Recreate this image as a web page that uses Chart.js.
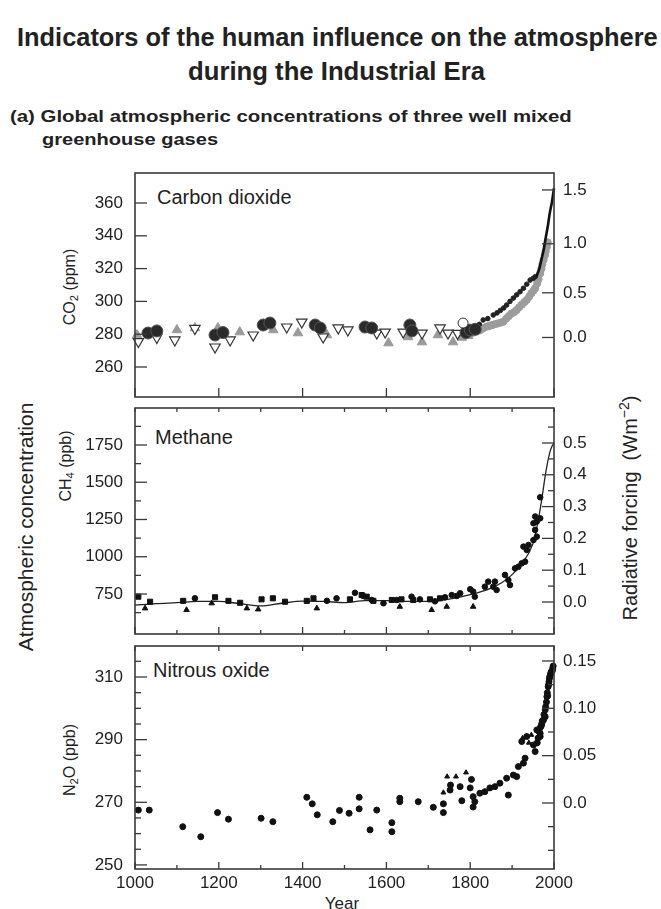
<!DOCTYPE html>
<html>
<head>
<meta charset="utf-8">
<script src="https://cdn.jsdelivr.net/npm/chart.js@4.4.1/dist/chart.umd.min.js"></script>
<style>
  body { margin: 0; background: #fff; font-family: "Liberation Sans", Arial, sans-serif; color: #222; }
  #wrap { position: relative; width: 661px; height: 909px; overflow: hidden; }
  .t { position: absolute; white-space: nowrap; line-height: 1; transform-origin: 0 50%; }
  .rot { position: absolute; white-space: nowrap; line-height: 1; transform: translate(-50%, -50%) rotate(-90deg); }
  canvas { position: absolute; left: 0; }
  sub { font-size: 70%; vertical-align: -0.25em; line-height: 0; }
  sup { font-size: 70%; vertical-align: 0.55em; line-height: 0; }
</style>
</head>
<body>
<div id="wrap">
  <div class="t fit" data-w="641" style="left:17px;top:25px;font-size:25px;font-weight:bold">Indicators of the human influence on the atmosphere</div>
  <div class="t fit" data-w="297" style="left:188px;top:59px;font-size:25px;font-weight:bold">during the Industrial Era</div>
  <div class="t fit" data-w="562" style="left:10px;top:109px;font-size:16px;font-weight:bold">(a) Global atmospheric concentrations of three well mixed</div>
  <div class="t fit" data-w="176" style="left:42px;top:132px;font-size:16px;font-weight:bold">greenhouse gases</div>

  <div class="t" style="left:157px;top:187px;font-size:20px">Carbon dioxide</div>
  <div class="t" style="left:155px;top:427px;font-size:20px">Methane</div>
  <div class="t" style="left:153px;top:660px;font-size:20px">Nitrous oxide</div>

  <div class="rot" style="left:25px;top:527px;font-size:21px">Atmospheric concentration</div>
  <div class="rot" style="left:70px;top:287px;font-size:16px">CO<sub>2</sub> (ppm)</div>
  <div class="rot" style="left:66px;top:466px;font-size:16px">CH<sub>4</sub> (ppb)</div>
  <div class="rot" style="left:70px;top:760px;font-size:16px">N<sub>2</sub>O (ppb)</div>
  <div class="rot" style="left:630px;top:508px;font-size:20px">Radiative forcing&nbsp; (Wm<sup>−2</sup>)</div>
  <div class="rot" style="left:342px;top:903px;font-size:17px;transform:translate(-50%,-50%)">Year</div>

  <canvas id="co2" width="661" height="274" style="top:148px"></canvas>
  <canvas id="ch4" width="661" height="276" style="top:383px"></canvas>
  <canvas id="n2o" width="661" height="288" style="top:621px"></canvas>
</div>
<script>
// ---- axis ticks ----
const yearTicks = [1000, 1200, 1400, 1600, 1800, 2000];
const yearMinor = [1100, 1300, 1500, 1700, 1900];
const co2Ticks = [260, 280, 300, 320, 340, 360];
const co2ForcingTicks = [0, 0.5, 1.0, 1.5];
const co2ForcingLabels = ['0.0', '0.5', '1.0', '1.5'];
const ch4Ticks = [750, 1000, 1250, 1500, 1750];
const ch4Minor = [625, 875, 1125, 1375, 1625, 1875];
const ch4ForcingTicks = [0, 0.1, 0.2, 0.3, 0.4, 0.5];
const ch4ForcingLabels = ['0.0', '0.1', '0.2', '0.3', '0.4', '0.5'];
const ch4ForcingMinor = [-0.05, 0.05, 0.15, 0.25, 0.35, 0.45, 0.55];
const n2oTicks = [250, 270, 290, 310];
const n2oMinor = [255, 260, 265, 275, 280, 285, 295, 300, 305, 315];
const n2oForcingTicks = [0, 0.05, 0.10, 0.15];
const n2oForcingLabels = ['0.0', '0.05', '0.10', '0.15'];
const n2oForcingMinor = [-0.05, -0.025, 0.025, 0.075, 0.125];

// ---- carbon dioxide (ppm) ----
const co2CircleYears = [1031, 1052, 1191, 1210, 1306, 1322, 1430, 1442, 1549, 1565, 1656, 1661, 1790, 1800, 1812];
const co2CircleVals  = [280.7, 282, 279.5, 281, 285.6, 286.8, 285.6, 283.8, 284.4, 283.8, 285.6, 282, 281, 282.5, 283];
const co2DownYears = [1008, 1052, 1095, 1143, 1191, 1227, 1282, 1362, 1398, 1449, 1485, 1508, 1577, 1597, 1640, 1685, 1728, 1747, 1770];
const co2DownVals  = [275.5, 278, 276.5, 283.5, 272.2, 276.5, 279.5, 284.4, 287.4, 278.3, 283.8, 282.6, 280.7, 281.3, 281.3, 280.7, 283.8, 280.7, 280.5];
const co2UpYears = [1005, 1100, 1143, 1198, 1250, 1330, 1389, 1458, 1553, 1605, 1652, 1685, 1723, 1759, 1780, 1795];
const co2UpVals  = [279.5, 282.6, 283.8, 283.8, 281.3, 282.6, 280.7, 279.5, 282.6, 274.6, 278.3, 275.2, 279.5, 275.2, 278, 279];
const co2OpenYears = [1783];
const co2OpenVals  = [286.8];
const co2GreyYears = [1800, 1806, 1812, 1818, 1824, 1830, 1839, 1845, 1851, 1858, 1865, 1872, 1879, 1886, 1892, 1898, 1905, 1911, 1917, 1923, 1929, 1935, 1941, 1946, 1951, 1955, 1960, 1963, 1967, 1970, 1972, 1975, 1978, 1980, 1983, 1985];
const co2GreyVals  = [280, 281, 281.5, 282, 282.5, 283.5, 284.6, 285, 285.5, 286, 286.5, 287, 287.6, 289.5, 291, 292.5, 293.5, 294.8, 296.5, 298, 299.5, 300.9, 303, 305, 306.5, 308, 311, 313.5, 317, 320, 322.5, 325.2, 328, 330.5, 333.4, 336];
const co2DotYears = [1805, 1815, 1822, 1831, 1842, 1855, 1864, 1872, 1880, 1887, 1895, 1903, 1911, 1919, 1927, 1935, 1943, 1950, 1955];
const co2DotVals  = [283, 284.5, 286, 288.7, 289.5, 291.7, 293, 294.5, 296, 297.8, 300, 302, 304, 305.9, 308, 310.5, 313, 314, 315];
const co2LineYears = [1958, 1965, 1970, 1975, 1980, 1985, 1990, 1995, 2000];
const co2LineVals  = [315, 320, 325.5, 331, 338.5, 345.5, 354, 360.5, 369];

// ---- methane (ppb) ----
const ch4SquareYears = [1008, 1036, 1115, 1191, 1223, 1251, 1302, 1329, 1358, 1410, 1426, 1513, 1541, 1553, 1569, 1613, 1636, 1664, 1704, 1728];
const ch4SquareVals  = [732, 698, 704, 728, 704, 691, 714, 721, 698, 704, 721, 714, 743, 732, 704, 710, 714, 710, 714, 721];
const ch4CircleYears = [1143, 1458, 1481, 1525, 1545, 1565, 1593, 1625, 1660, 1680, 1716, 1740, 1756, 1768, 1776, 1800, 1807, 1811, 1835, 1843, 1855, 1863, 1859, 1883, 1891, 1895, 1907, 1915, 1923, 1931, 1927, 1935, 1939, 1951, 1959, 1955, 1951, 1959, 1967, 1955, 1967];
const ch4CircleVals  = [721, 704, 721, 758, 737, 710, 688, 710, 732, 714, 701, 728, 743, 737, 755, 782, 766, 732, 799, 833, 799, 777, 833, 878, 844, 810, 922, 933, 956, 967, 1068, 1045, 1079, 1112, 1135, 1180, 1225, 1236, 1258, 1270, 1399];
const ch4TriYears = [1024, 1123, 1183, 1267, 1294, 1434, 1632, 1708, 1744, 1807];
const ch4TriVals  = [654, 643, 688, 654, 647, 654, 665, 643, 665, 665];
const ch4LineYears = [1000, 1050, 1100, 1150, 1200, 1250, 1300, 1350, 1400, 1450, 1500, 1550, 1600, 1650, 1700, 1750, 1800, 1850, 1875, 1900, 1925, 1950, 1960, 1970, 1980, 1990, 1995, 2000];
const ch4LineVals  = [675, 685, 692, 700, 700, 685, 670, 688, 702, 700, 692, 705, 705, 700, 700, 715, 745, 790, 825, 880, 960, 1090, 1210, 1370, 1560, 1700, 1740, 1762];

// ---- nitrous oxide (ppb) ----
const n2oDotYears = [1008, 1034, 1114, 1157, 1197, 1223, 1301, 1329, 1410, 1423, 1435, 1472, 1488, 1511, 1535, 1535, 1561, 1577,
  1613, 1613, 1632, 1632, 1676, 1712, 1736, 1736, 1753, 1752, 1780, 1776, 1807, 1811, 1803, 1807, 1800, 1823, 1835, 1847, 1859, 1871,
  1887, 1891, 1903, 1911, 1915, 1927, 1931, 1923, 1935, 1951, 1955, 1959, 1960, 1962, 1965, 1967, 1967, 1968, 1970, 1971, 1972, 1975,
  1976, 1979, 1979, 1980, 1982, 1983, 1984, 1985, 1986, 1987, 1988, 1989, 1990, 1991, 1992, 1993, 1994, 1996, 1997, 1998];
const n2oDotVals  = [267.5, 267.5, 262.2, 259, 266.7, 264.6, 264.9, 263.8, 271.6, 269.5, 266, 263.8, 267.4, 266.5, 271.6, 267.9, 261.2, 267.5,
  263.5, 260.6, 271.3, 270.2, 270.2, 268.4, 269.5, 266.7, 275.5, 273.9, 270.5, 275, 268.5, 270.2, 277.3, 271.8, 274.6, 272.9, 273.4, 274.6, 275, 276.1,
  277.7, 272.3, 278.7, 278.2, 281.4, 282.5, 284.1, 289.4, 291, 288.3, 286.2, 293.1, 289, 290.5, 292.5, 292, 291, 294, 294.5, 295.2, 296, 296.3,
  298, 297.3, 299.5, 300.5, 302, 303.7, 305, 304, 306.9, 307.5, 308.5, 309.5, 310.1, 310.5, 311, 311.5, 311.7, 312, 312.8, 313.5];
const n2oTriYears = [1736, 1745, 1766, 1790, 1925, 1940, 1946];
const n2oTriVals  = [273.1, 278.2, 278.2, 279.5, 290.5, 289, 291.5];

const pts = (xs, ys) => xs.map((x, i) => ({ x, y: ys[i] }));

Chart.defaults.font.family = '"Liberation Sans", Arial, sans-serif';
Chart.defaults.font.size = 17;
Chart.defaults.color = '#222';
Chart.defaults.animation = false;

// inward frame ticks, placed through the chart's own scales
const frameTicks = {
  id: 'frameTicks',
  afterDatasetsDraw(chart, args, opts) {
    const { ctx, chartArea: a } = chart;
    ctx.save();
    ctx.strokeStyle = '#3a3a3a';
    ctx.lineWidth = 1.3;
    (opts.marks || []).forEach(m => {
      const scale = chart.scales[m.axis];
      m.values.forEach(v => {
        const p = scale.getPixelForValue(v);
        ctx.beginPath();
        if (m.side === 'left') { ctx.moveTo(a.left, p); ctx.lineTo(a.left + m.len, p); }
        if (m.side === 'right') { ctx.moveTo(a.right, p); ctx.lineTo(a.right - m.len, p); }
        if (m.side === 'top') { ctx.moveTo(p, a.top); ctx.lineTo(p, a.top + m.len); }
        if (m.side === 'bottom') { ctx.moveTo(p, a.bottom); ctx.lineTo(p, a.bottom - m.len); }
        ctx.stroke();
      });
    });
    ctx.lineWidth = 1.6;
    ctx.strokeRect(a.left, a.top, a.right - a.left, a.bottom - a.top);
    ctx.restore();
  }
};

function yAxis(min, max, ticks, labels, position) {
  return {
    type: 'linear',
    position,
    min, max,
    grid: { display: false, drawTicks: false },
    border: { display: false },
    afterBuildTicks: s => { s.ticks = ticks.map(v => ({ value: v })); },
    afterFit: s => { s.width = position === 'left' ? 135 : 107; },
    ticks: {
      padding: position === 'left' ? 12 : 9,
      callback: (v, i) => labels ? labels[i] : String(v),
    },
  };
}

function xAxis(show) {
  const axis = {
    type: 'linear',
    min: 1000, max: 2000,
    display: show,
    grid: { display: false, drawTicks: false },
    border: { display: false },
    afterBuildTicks: s => { s.ticks = yearTicks.map(v => ({ value: v })); },
    ticks: { padding: 4, maxRotation: 0, callback: v => String(v) },
  };
  if (show) axis.afterFit = s => { s.height = 30; };
  return axis;
}

function scatter(data, style) {
  return Object.assign({ data, showLine: false, clip: false, pointBorderWidth: 1 }, style);
}

// ---- panel (a1) carbon dioxide ----
const co2Min = 241.7, co2Max = 378.3;
const co2ForcingAt = co2ForcingTicks.map(f => 278 * Math.exp(f / 5.35));
new Chart(document.getElementById('co2'), {
  type: 'scatter',
  data: {
    datasets: [
      { data: pts(co2LineYears, co2LineVals), showLine: true, borderColor: '#111', borderWidth: 2.6, pointRadius: 0, tension: 0.3, clip: false },
      scatter(pts(co2OpenYears, co2OpenVals), { pointStyle: 'circle', pointRadius: 5, backgroundColor: '#fff', borderColor: '#333' }),
      scatter(pts(co2CircleYears, co2CircleVals), { pointStyle: 'circle', pointRadius: 6, backgroundColor: '#2a2a2a', borderColor: '#555' }),
      scatter(pts(co2DotYears, co2DotVals), { pointStyle: 'circle', pointRadius: 2.3, backgroundColor: '#222', borderColor: '#222' }),
      scatter(pts(co2DownYears, co2DownVals), { pointStyle: 'triangle', pointRotation: 180, pointRadius: 6, backgroundColor: '#fff', borderColor: '#333', pointBorderWidth: 1.2 }),
      scatter(pts(co2UpYears, co2UpVals), { pointStyle: 'triangle', pointRadius: 5.5, backgroundColor: '#9a9a9a', borderColor: '#9a9a9a' }),
      scatter(pts(co2GreyYears, co2GreyVals), { pointStyle: 'circle', pointRadius: 3.6, backgroundColor: '#9c9c9c', borderColor: '#9c9c9c' }),
    ],
  },
  options: {
    responsive: false,
    layout: { padding: { top: 25, bottom: 25, left: 0, right: 0 } },
    plugins: {
      legend: { display: false }, tooltip: { enabled: false },
      frameTicks: {
        marks: [
          { axis: 'y', side: 'left', values: co2Ticks, len: 12 },
          { axis: 'y', side: 'right', values: co2ForcingAt, len: 12 },
          { axis: 'x', side: 'bottom', values: yearTicks, len: 9 },
        ],
      },
    },
    scales: {
      x: xAxis(false),
      y: yAxis(co2Min, co2Max, co2Ticks, null, 'left'),
      y2: yAxis(co2Min, co2Max, co2ForcingAt, co2ForcingLabels, 'right'),
    },
  },
  plugins: [frameTicks],
});

// ---- panel (a2) methane ----
new Chart(document.getElementById('ch4'), {
  type: 'scatter',
  data: {
    datasets: [
      scatter(pts(ch4SquareYears, ch4SquareVals), { pointStyle: 'rect', pointRadius: 3.6, backgroundColor: '#111', borderColor: '#111' }),
      scatter(pts(ch4CircleYears, ch4CircleVals), { pointStyle: 'circle', pointRadius: 2.8, backgroundColor: '#111', borderColor: '#111' }),
      scatter(pts(ch4TriYears, ch4TriVals), { pointStyle: 'triangle', pointRadius: 3.2, backgroundColor: '#111', borderColor: '#111' }),
      { data: pts(ch4LineYears, ch4LineVals), showLine: true, borderColor: '#222', borderWidth: 1.3, pointRadius: 0, cubicInterpolationMode: 'monotone', clip: false },
    ],
  },
  options: {
    responsive: false,
    layout: { padding: { top: 25, bottom: 25, left: 0, right: 0 } },
    plugins: {
      legend: { display: false }, tooltip: { enabled: false },
      frameTicks: {
        marks: [
          { axis: 'y', side: 'left', values: ch4Ticks, len: 12 },
          { axis: 'y', side: 'left', values: ch4Minor, len: 6 },
          { axis: 'y2', side: 'right', values: ch4ForcingTicks, len: 12 },
          { axis: 'y2', side: 'right', values: ch4ForcingMinor, len: 6 },
          { axis: 'x', side: 'top', values: yearTicks.concat(yearMinor), len: 4 },
          { axis: 'x', side: 'bottom', values: yearTicks, len: 7 },
          { axis: 'x', side: 'bottom', values: yearMinor, len: 4 },
        ],
      },
    },
    scales: {
      x: xAxis(false),
      y: yAxis(481.5, 1998.3, ch4Ticks, null, 'left'),
      y2: yAxis(-0.1006, 0.610, ch4ForcingTicks, ch4ForcingLabels, 'right'),
    },
  },
  plugins: [frameTicks],
});

// ---- panel (a3) nitrous oxide ----
new Chart(document.getElementById('n2o'), {
  type: 'scatter',
  data: {
    datasets: [
      scatter(pts(n2oDotYears, n2oDotVals), { pointStyle: 'circle', pointRadius: 3, backgroundColor: '#111', borderColor: '#111' }),
      scatter(pts(n2oTriYears, n2oTriVals), { pointStyle: 'triangle', pointRadius: 2.8, backgroundColor: '#111', borderColor: '#111' }),
    ],
  },
  options: {
    responsive: false,
    layout: { padding: { top: 25, bottom: 10, left: 0, right: 0 } },
    plugins: {
      legend: { display: false }, tooltip: { enabled: false },
      frameTicks: {
        marks: [
          { axis: 'y', side: 'left', values: n2oTicks, len: 12 },
          { axis: 'y', side: 'left', values: n2oMinor, len: 6 },
          { axis: 'y2', side: 'right', values: n2oForcingTicks, len: 12 },
          { axis: 'y2', side: 'right', values: n2oForcingMinor, len: 6 },
          { axis: 'x', side: 'top', values: yearTicks, len: 5 },
          { axis: 'x', side: 'bottom', values: yearTicks, len: 7 },
          { axis: 'x', side: 'bottom', values: yearMinor, len: 4 },
        ],
      },
    },
    scales: {
      x: xAxis(true),
      y: yAxis(248.7, 319.9, n2oTicks, null, 'left'),
      y2: yAxis(-0.0697, 0.1658, n2oForcingTicks, n2oForcingLabels, 'right'),
    },
  },
  plugins: [frameTicks],
});

// stretch the heading lines to the widths they have in the figure
document.querySelectorAll('.fit').forEach(el => {
  const w = el.getBoundingClientRect().width;
  el.style.transform = 'scaleX(' + (Number(el.dataset.w) / w).toFixed(3) + ')';
});
</script>
</body>
</html>
